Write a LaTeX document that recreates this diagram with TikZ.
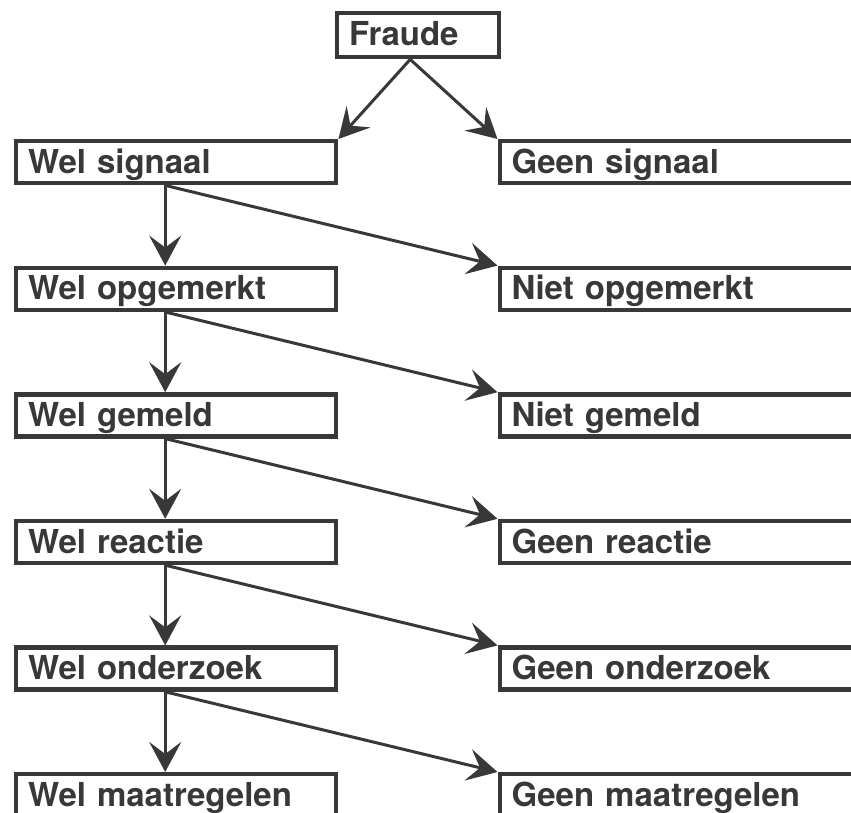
\documentclass[tikz,border=0pt]{standalone}
\usepackage{fontspec}
\setmainfont{TeX Gyre Heros}
\usetikzlibrary{arrows.meta}
\definecolor{inkt}{HTML}{383838}

\begin{document}
\begin{tikzpicture}[x=0.5pt, y=-0.5pt,
		vak/.style={draw=inkt, line width=2.2pt, text=inkt, anchor=north west, inner xsep=6pt, inner ysep=0pt,
			text height=16pt, text depth=5pt, align=left, font=\fontsize{16.5}{20}\selectfont\bfseries},
		wel/.style={vak, text width=148pt},
		geen/.style={vak, text width=200pt},
		pijl/.style={draw=inkt, line width=1.5pt, -{Stealth[length=15pt, width=16pt, inset=6pt]}}]
		\useasboundingbox (0,0) rectangle (851,813);
		\clip (0,0) rectangle (851,813);

		\node[vak, text width=69pt, text depth=6pt] (fraude) at (335,11) {Fraude};

		\node[wel] (welsignaal) at (14,139) {Wel signaal};
		\node[geen] (geensignaal) at (497.5,139) {Geen signaal};
		\node[wel] (welopgemerkt) at (14,265.6) {Wel opgemerkt};
		\node[geen] (nietopgemerkt) at (497.5,265.6) {Niet opgemerkt};
		\node[wel] (welgemeld) at (14,392.2) {Wel gemeld};
		\node[geen] (nietgemeld) at (497.5,392.2) {Niet gemeld};
		\node[wel] (welreactie) at (14,518.8) {Wel reactie};
		\node[geen] (geenreactie) at (497.5,518.8) {Geen reactie};
		\node[wel] (welonderzoek) at (14,645.4) {Wel onderzoek};
		\node[geen] (geenonderzoek) at (497.5,645.4) {Geen onderzoek};
		\node[wel, text depth=20pt] (welmaatregelen) at (14,772) {Wel maatregelen};
		\node[geen, text depth=20pt] (geenmaatregelen) at (497.5,772) {Geen maatregelen};

		\draw[pijl] ([xshift=-4pt]fraude.south) -- (welsignaal.north east);
		\draw[pijl] ([xshift=-4pt]fraude.south) -- (geensignaal.north west);

		\draw[pijl] ([xshift=-5.5pt]welsignaal.south) -- ([xshift=-5.5pt]welopgemerkt.north);
		\draw[pijl] ([xshift=-5.5pt]welsignaal.south) -- (nietopgemerkt.north west);
		\draw[pijl] ([xshift=-5.5pt]welopgemerkt.south) -- ([xshift=-5.5pt]welgemeld.north);
		\draw[pijl] ([xshift=-5.5pt]welopgemerkt.south) -- (nietgemeld.north west);
		\draw[pijl] ([xshift=-5.5pt]welgemeld.south) -- ([xshift=-5.5pt]welreactie.north);
		\draw[pijl] ([xshift=-5.5pt]welgemeld.south) -- (geenreactie.north west);
		\draw[pijl] ([xshift=-5.5pt]welreactie.south) -- ([xshift=-5.5pt]welonderzoek.north);
		\draw[pijl] ([xshift=-5.5pt]welreactie.south) -- (geenonderzoek.north west);
		\draw[pijl] ([xshift=-5.5pt]welonderzoek.south) -- ([xshift=-5.5pt]welmaatregelen.north);
		\draw[pijl] ([xshift=-5.5pt]welonderzoek.south) -- (geenmaatregelen.north west);
	\end{tikzpicture}
\end{document}
